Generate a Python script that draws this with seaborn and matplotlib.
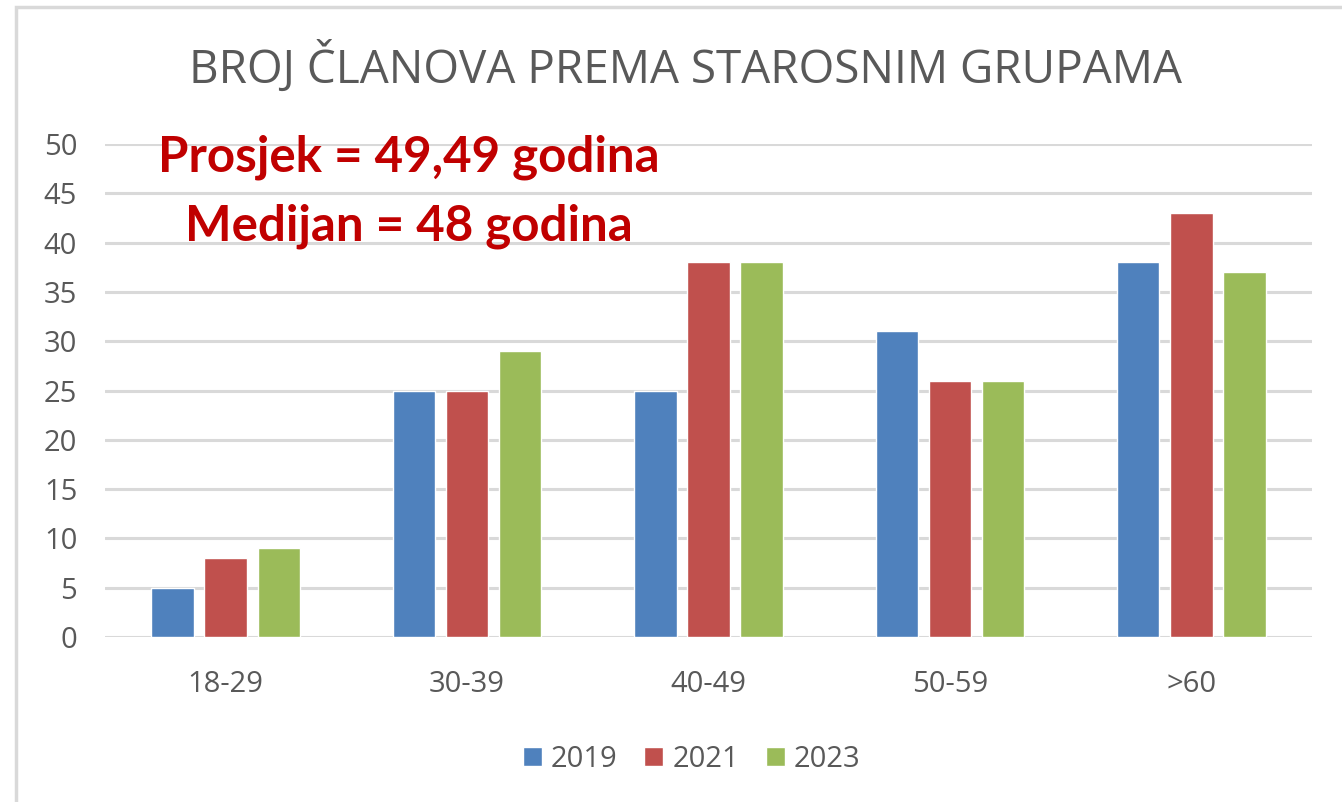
import pandas as pd
import matplotlib.pyplot as plt
import seaborn as sns
from matplotlib.patches import Rectangle

# chart data
groups = ['18-29', '30-39', '40-49', '50-59', '>60']
years = ['2019', '2021', '2023']
members_2019 = [5, 25, 25, 31, 38]
members_2021 = [8, 25, 38, 26, 43]
members_2023 = [9, 29, 38, 26, 37]

title = 'BROJ ČLANOVA PREMA STAROSNIM GRUPAMA'
note_mean = 'Prosjek = 49,49 godina'
note_median = 'Medijan = 48 godina'

colors = ['#4F81BD', '#C0504D', '#9BBB59']
grey_text = '#595959'

df = pd.DataFrame({
    'grupa': groups * 3,
    'godina': [y for y in years for _ in groups],
    'broj': members_2019 + members_2021 + members_2023,
})

sns.set_theme(style='white')
plt.rcParams['font.family'] = ['Open Sans', 'DejaVu Sans']

fig = plt.figure(figsize=(13.42, 8.02), dpi=100)
ax = fig.add_axes([105 / 1342, 1 - 637 / 802, 1207 / 1342, 493 / 802])

sns.barplot(data=df, x='grupa', y='broj', hue='godina', palette=colors,
            saturation=1, width=0.66, gap=0.2, ax=ax, zorder=3)

ax.set_xlim(-0.5, 4.5)
ax.set_ylim(0, 50)
ax.set_yticks(range(0, 51, 5))
ax.yaxis.grid(True, color='#D9D9D9', linewidth=2.2, zorder=0)
ax.set_axisbelow(True)
for s in ax.spines.values():
    s.set_visible(False)
ax.set_xlabel('')
ax.set_ylabel('')
ax.tick_params(axis='both', length=0, labelsize=21, labelcolor=grey_text)
ax.tick_params(axis='x', pad=24)
ax.tick_params(axis='y', pad=20)

leg = ax.legend(loc='upper center', bbox_to_anchor=(0.486, -0.165), ncol=3,
                frameon=False, fontsize=21, handlelength=0.65, handleheight=0.65,
                handletextpad=0.3, columnspacing=0.92)
for t in leg.get_texts():
    t.set_color(grey_text)

fig.text(686 / 1342, 1 - 68 / 802, title, ha='center', va='center',
         fontsize=33, color=grey_text)

fig.text(409 / 1342, 1 - 157 / 802, note_mean, ha='center', va='center',
         fontsize=35.5, fontweight='bold', color='#C00000', family=['Lato', 'DejaVu Sans'])
fig.text(409 / 1342, 1 - 226 / 802, note_median, ha='center', va='center',
         fontsize=35.5, fontweight='bold', color='#C00000', family=['Lato', 'DejaVu Sans'])

# light frame around the chart
fig.patches.append(Rectangle((16 / 1342, -0.1), 1.2, 1 - 7 / 802 + 0.1,
                             transform=fig.transFigure, fill=False,
                             edgecolor='#D9D9D9', linewidth=2.5))

fig.savefig('out.png', dpi=100)
